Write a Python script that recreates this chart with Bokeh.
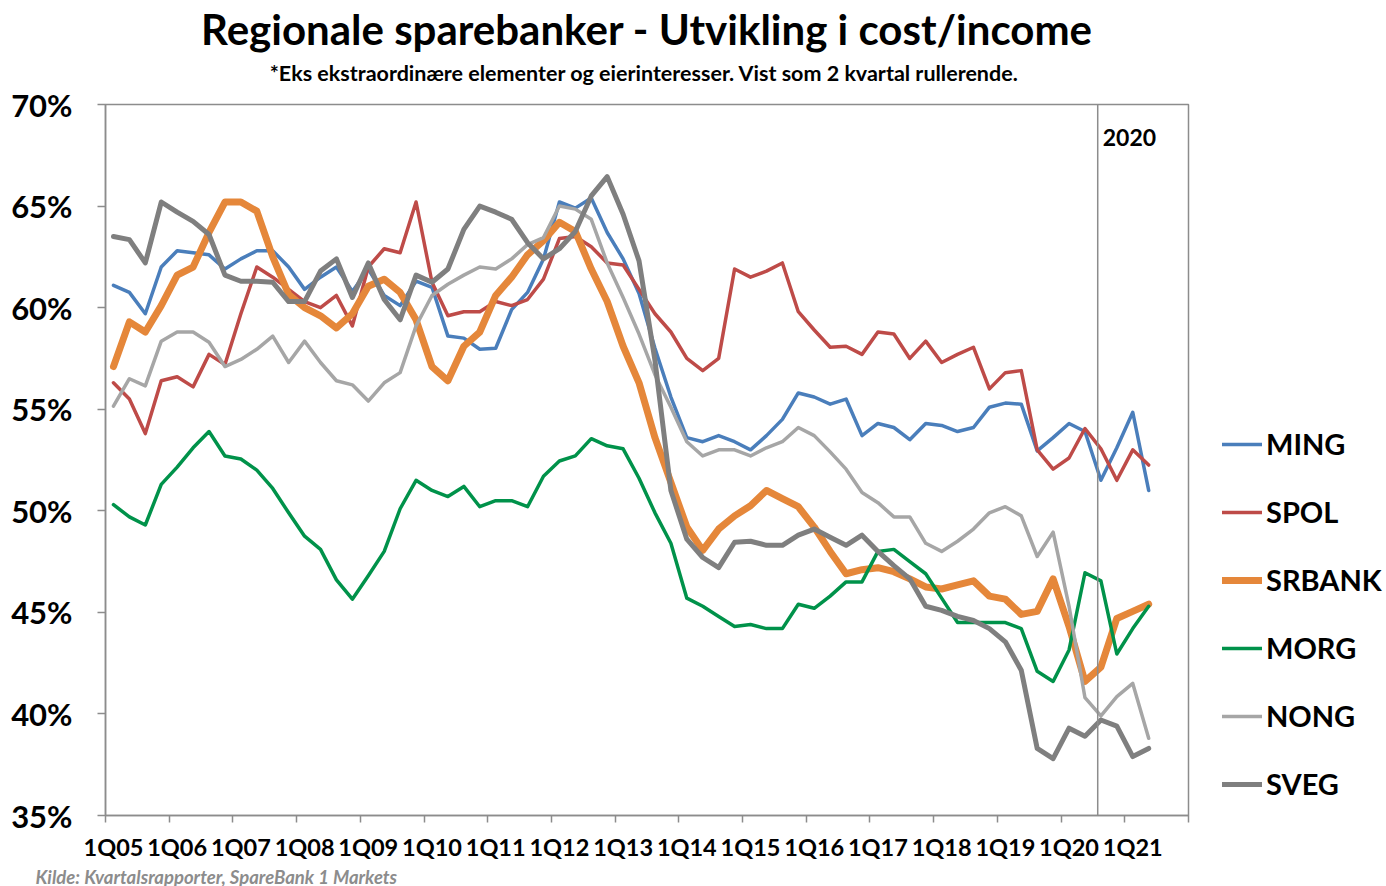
from bokeh.plotting import figure
from bokeh.models import (FixedTicker, Span, Label, Legend, LegendItem, Title,
                          Range1d, PrintfTickFormatter)
from bokeh.embed import file_html
from bokeh.resources import INLINE

# ---------------- data (cost/income, %, 1Q05 .. 2Q21) ----------------
tick_labels = ["1Q05", "1Q06", "1Q07", "1Q08", "1Q09", "1Q10", "1Q11", "1Q12",
               "1Q13", "1Q14", "1Q15", "1Q16", "1Q17", "1Q18", "1Q19", "1Q20", "1Q21"]
y_ticks = [35, 40, 45, 50, 55, 60, 65, 70]

ming = [61.1, 60.75, 59.7, 62.0, 62.8, 62.7, 62.6, 61.9, 62.4, 62.8, 62.8, 62.0,
        60.9, 61.5, 62.0, 60.8, 61.9, 60.6, 60.1, 61.3, 61.0, 58.6, 58.5, 57.95,
        58.0, 59.9, 60.75, 62.4, 65.2, 64.9, 65.4, 63.7, 62.4, 60.7, 58.0, 55.6,
        53.6, 53.4, 53.7, 53.4, 53.0, 53.7, 54.5, 55.8, 55.6, 55.25, 55.5, 53.7,
        54.3, 54.1, 53.5, 54.3, 54.2, 53.9, 54.1, 55.1, 55.3, 55.25, 52.95, 53.6,
        54.3, 53.9, 51.5, 53.1, 54.85, 51.0]
spol = [56.3, 55.5, 53.8, 56.4, 56.6, 56.1, 57.7, 57.2, 59.7, 62.0, 61.5, 60.9,
        60.3, 60.0, 60.6, 59.1, 62.0, 62.9, 62.7, 65.2, 61.25, 59.6, 59.8, 59.8,
        60.3, 60.1, 60.4, 61.4, 63.4, 63.5, 63.0, 62.2, 62.1, 60.9, 59.7, 58.8,
        57.5, 56.9, 57.5, 61.9, 61.5, 61.8, 62.2, 59.8, 58.9, 58.05, 58.1, 57.7,
        58.8, 58.7, 57.5, 58.35, 57.3, 57.7, 58.05, 56.0, 56.8, 56.9, 53.0, 52.05,
        52.6, 54.05, 53.05, 51.5, 53.0, 52.25]
srbank = [57.1, 59.3, 58.8, 60.1, 61.6, 62.0, 63.7, 65.2, 65.2, 64.75, 62.5, 60.65,
          60.0, 59.6, 59.0, 59.7, 61.05, 61.4, 60.75, 59.4, 57.1, 56.4, 58.1, 58.8,
          60.6, 61.5, 62.6, 63.3, 64.2, 63.75, 61.9, 60.3, 58.1, 56.3, 53.6, 51.4,
          49.2, 48.05, 49.1, 49.75, 50.25, 51.0, 50.6, 50.2, 49.2, 48.0, 46.9, 47.1,
          47.2, 47.0, 46.65, 46.25, 46.15, 46.35, 46.55, 45.8, 45.65, 44.9, 45.05, 46.65,
          44.3, 41.6, 42.3, 44.7, 45.05, 45.4]
morg = [50.3, 49.7, 49.3, 51.3, 52.15, 53.1, 53.9, 52.7, 52.55, 52.0, 51.1, 49.9,
        48.75, 48.1, 46.6, 45.65, 46.8, 48.0, 50.1, 51.5, 51.0, 50.7, 51.2, 50.2,
        50.5, 50.5, 50.2, 51.7, 52.45, 52.7, 53.55, 53.2, 53.05, 51.6, 49.9, 48.4,
        45.7, 45.3, 44.8, 44.3, 44.4, 44.2, 44.2, 45.4, 45.2, 45.8, 46.5, 46.5,
        48.0, 48.1, 47.5, 46.9, 45.7, 44.5, 44.5, 44.5, 44.5, 44.2, 42.1, 41.6,
        43.15, 46.95, 46.55, 42.95, 44.2, 45.3]
nong = [55.15, 56.5, 56.15, 58.35, 58.8, 58.8, 58.3, 57.1, 57.45, 57.95, 58.6, 57.3,
        58.35, 57.3, 56.4, 56.2, 55.4, 56.3, 56.8, 59.1, 60.6, 61.15, 61.6, 62.0,
        61.9, 62.4, 63.1, 63.45, 65.0, 64.85, 64.35, 62.2, 60.5, 58.7, 56.7, 55.1,
        53.4, 52.7, 53.0, 53.0, 52.7, 53.1, 53.4, 54.1, 53.7, 52.9, 52.05, 50.9,
        50.4, 49.7, 49.7, 48.4, 48.0, 48.5, 49.1, 49.9, 50.2, 49.75, 47.75, 48.95,
        45.3, 40.8, 39.9, 40.85, 41.5, 38.8]
sveg = [63.5, 63.35, 62.2, 65.2, 64.7, 64.25, 63.6, 61.6, 61.3, 61.3, 61.25, 60.3,
        60.3, 61.8, 62.4, 60.5, 62.2, 60.4, 59.4, 61.6, 61.25, 61.9, 63.85, 65.0,
        64.7, 64.35, 63.2, 62.4, 62.9, 63.75, 65.5, 66.45, 64.6, 62.3, 57.4, 51.0,
        48.6, 47.7, 47.2, 48.45, 48.5, 48.3, 48.3, 48.8, 49.1, 48.7, 48.3, 48.8,
        48.0, 47.3, 46.65, 45.3, 45.1, 44.8, 44.6, 44.2, 43.55, 42.15, 38.3, 37.8,
        39.3, 38.9, 39.7, 39.4, 37.9, 38.3]

series_names = ["MING", "SPOL", "SRBANK", "MORG", "NONG", "SVEG"]
series_values = [ming, spol, srbank, morg, nong, sveg]
series_colors = ["#4A7EBB", "#BE4B48", "#E5873A", "#00924A", "#A6A6A6", "#7F7F7F"]
series_widths = [3.5, 3.5, 7, 3.5, 3.5, 5]

n_slots = 68          # category slots on the axis (1Q05 .. 4Q21)
marker_2020 = 61.8    # position of vertical 2020 marker (in quarter index units)

FONT = "Lato"
AXIS_GRAY = "#8C8C8C"

p = figure(frame_width=1083, frame_height=711,
           x_range=Range1d(-0.5, n_slots - 0.5), y_range=Range1d(35, 70),
           output_backend="svg", toolbar_location=None, title=None,
           min_border_left=105, min_border_right=190, min_border_top=0,
           min_border_bottom=0)

p.background_fill_color = "white"
p.border_fill_color = "white"
p.outline_line_color = AXIS_GRAY
p.outline_line_width = 1.5
p.xgrid.visible = False
p.ygrid.visible = False

renderers = []
for name, vals, col, w in zip(series_names, series_values, series_colors, series_widths):
    r = p.line(list(range(len(vals))), vals, line_color=col, line_width=w,
               line_join="round", line_cap="round")
    renderers.append(r)

# vertical 2020 marker
p.add_layout(Span(location=marker_2020, dimension="height",
                  line_color=AXIS_GRAY, line_width=1.5))
p.add_layout(Label(x=marker_2020, y=68.4, x_offset=5, text="2020",
                   text_baseline="middle", text_font=FONT, text_font_size="23px",
                   text_font_style="bold", text_color="black"))

# x axis
xa = p.xaxis[0]
xa.ticker = FixedTicker(ticks=[4 * k for k in range(len(tick_labels))],
                        minor_ticks=[-0.5 + 4 * k for k in range(n_slots // 4 + 1)])
xa.major_label_overrides = {4 * k: lbl for k, lbl in enumerate(tick_labels)}
xa.major_tick_out = 0
xa.major_tick_in = 0
xa.minor_tick_out = 7
xa.minor_tick_in = 0
xa.minor_tick_line_color = AXIS_GRAY
xa.minor_tick_line_width = 1.5
xa.axis_line_color = AXIS_GRAY
xa.axis_line_width = 1.5
xa.major_label_standoff = 10
xa.major_label_text_font = FONT
xa.major_label_text_font_size = "23.5px"
xa.major_label_text_font_style = "bold"
xa.major_label_text_color = "black"

# y axis
ya = p.yaxis[0]
ya.ticker = FixedTicker(ticks=y_ticks)
ya.formatter = PrintfTickFormatter(format="%d%%")
ya.major_tick_out = 8
ya.major_tick_in = 0
ya.minor_tick_out = 0
ya.minor_tick_in = 0
ya.major_tick_line_color = AXIS_GRAY
ya.major_tick_line_width = 1.5
ya.axis_line_color = AXIS_GRAY
ya.axis_line_width = 1.5
ya.major_label_standoff = 25
ya.major_label_text_font = FONT
ya.major_label_text_font_size = "31px"
ya.major_label_text_font_style = "bold"
ya.major_label_text_color = "black"

# titles (stacked from the plot outward)
spacer = Title(text=" ", text_font_size="2px", standoff=11)
sub = Title(text="*Eks ekstraordinære elementer og eierinteresser.  Vist som 2 kvartal rullerende.",
            align="center", text_font=FONT, text_font_size="21.5px",
            text_font_style="bold", text_color="black", standoff=7)
main = Title(text="Regionale sparebanker - Utvikling i cost/income", align="center",
             text_font=FONT, text_font_size="42px", text_font_style="bold",
             text_color="black", standoff=2)
p.add_layout(spacer, "above")
p.add_layout(sub, "above")
p.add_layout(main, "above")

foot = Title(text="Kilde: Kvartalsrapporter, SpareBank 1 Markets", align="left",
             text_font=FONT, text_font_size="18.5px", text_font_style="bold italic",
             text_color=AXIS_GRAY, offset=-70, standoff=0)
p.add_layout(foot, "below")

# legend
items = [LegendItem(label=n, renderers=[r]) for n, r in zip(series_names, renderers)]
legend = Legend(items=items, location=(34, 14), orientation="vertical",
                glyph_width=40, glyph_height=30, label_height=30, spacing=33,
                label_standoff=4, padding=0, margin=0,
                border_line_alpha=0, background_fill_alpha=0,
                label_text_font=FONT, label_text_font_size="29px",
                label_text_font_style="bold", label_text_color="black")
p.add_layout(legend, "right")

open("out.html", "w").write(file_html(p, INLINE))
